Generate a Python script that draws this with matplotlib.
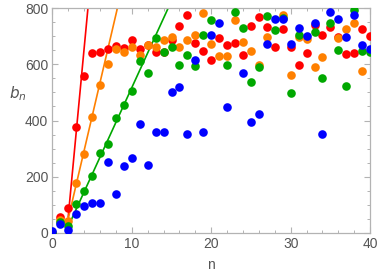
import numpy as np
import matplotlib
matplotlib.use("Agg")
import matplotlib.pyplot as plt
from matplotlib.ticker import MultipleLocator

# values (points above 800 are clipped by the plot range)
n = list(range(41))
red_b = [0, 58, 88, 378, 559, 639, 645, 654, 666, 659, 685, 655, 668, 643, 645,
         686, 735, 775, 677, 647, 614, 692, 668, 676, 633, 736, 769, 734, 663, 724,
         663, 597, 639, 740, 706, 734, 698, 637, 641, 724, 700]
orange_b = [0, 47, 43, 177, 281, 414, 526, 601, 653, 643, 660, 633, 668, 663, 687,
            697, 660, 686, 703, 781, 674, 631, 631, 757, 678, 647, 597, 698, 830, 777,
            562, 696, 690, 589, 625, 830, 692, 724, 746, 577, 840]
green_b = [0, 40, 25, 103, 148, 203, 283, 318, 409, 457, 505, 613, 568, 695, 643,
           661, 597, 633, 594, 706, 756, 830, 597, 787, 728, 537, 589, 772, 722, 766,
           497, 704, 830, 716, 552, 746, 651, 523, 795, 647, 645]
blue_b = [7, 32, 10, 68, 96, 105, 105, 253, 138, 237, 265, 388, 242, 360, 358,
          500, 519, 352, 615, 358, 704, 748, 447, 850, 568, 394, 425, 672, 760, 760,
          674, 730, 702, 748, 353, 787, 763, 696, 775, 668, 653]

# early growth lines: slope, intercept, first n
line_slope = [299, 121, 61.8]
line_icpt = [-540, -191, -101]
line_start = [2.0, 1.9, 1.9]

colors = ["#ff0000", "#ff8000", "#00a800", "#0000ff"]
series = [red_b, orange_b, green_b, blue_b]

plt.rcParams['font.family'] = ['Liberation Sans', 'DejaVu Sans']

fig = plt.figure(figsize=(3.82, 2.80), dpi=100)
ax = fig.add_axes([0.137, 0.168, 0.832, 0.803])

# fitted lines
for slope, icpt, start, col in zip(line_slope, line_icpt, line_start, colors):
    xs = np.array([start, 40])
    ax.plot(xs, slope * xs + icpt, color=col, lw=1.2, zorder=2)

# points
for vals, col in zip(series, colors):
    ax.plot(n, vals, 'o', color=col, ms=6.2, mew=0, zorder=3)

ax.set_xlim(0, 40)
ax.set_ylim(0, 800)

frame_col = "#b3b3b3"
for sp in ax.spines.values():
    sp.set_color(frame_col)
    sp.set_linewidth(0.9)

ax.xaxis.set_major_locator(MultipleLocator(10))
ax.xaxis.set_minor_locator(MultipleLocator(2))
ax.yaxis.set_major_locator(MultipleLocator(200))
ax.yaxis.set_minor_locator(MultipleLocator(50))
ax.tick_params(which='both', direction='in', top=True, right=True,
               color=frame_col, labelcolor="#555555", labelsize=10)
ax.tick_params(which='major', length=4, width=0.8, pad=3)
ax.tick_params(which='minor', length=2.3, width=0.7)

ax.set_xlabel("n", color="#555555", fontsize=10, labelpad=5)
ax.set_ylabel(r"$b_n$", color="#555555", fontsize=11, rotation=0)
ax.yaxis.set_label_coords(-0.11, 0.58)

fig.savefig("out.png", dpi=100)
